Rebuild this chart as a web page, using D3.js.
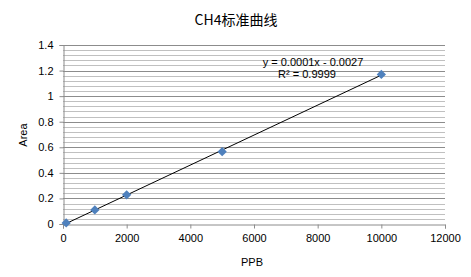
<!DOCTYPE html>
<html>
<head>
<meta charset="utf-8">
<script src="https://cdn.jsdelivr.net/npm/d3@7"></script>
<style>
  body { margin: 0; background: #fff; }
  svg text { font-family: "Liberation Sans", "Noto Sans CJK SC", sans-serif; fill: #000; }
</style>
</head>
<body>
<div id="chart"></div>
<script>
// standard curve data
var ppb = [100, 1000, 2000, 5000, 10000];
var area = [0.008, 0.11, 0.228, 0.566, 1.17];
var xTicks = [0, 2000, 4000, 6000, 8000, 10000, 12000];
var yTicks = [0, 0.2, 0.4, 0.6, 0.8, 1, 1.2, 1.4];
var eqLines = ["y = 0.0001x - 0.0027", "R² = 0.9999"];

var width = 471, height = 277;
// plot box (note: "top" is reserved on window, so use a prefix)
var pLeft = 63, pRight = 445, pTop = 45, pBottom = 224;

var svg = d3.select('#chart').append('svg')
  .attr('width', width).attr('height', height);

var x = d3.scaleLinear().domain([0, 12000]).range([pLeft, pRight]);
var y = d3.scaleLinear().domain([0, 1.4]).range([pBottom, pTop]);

// minor gridlines every 0.04
var minor = d3.range(0, 1.4001, 0.04).filter(function(v) {
  return Math.abs(v / 0.2 - Math.round(v / 0.2)) > 0.01;
});
svg.append('g').selectAll('line').data(minor).enter().append('line')
  .attr('x1', pLeft).attr('x2', pRight)
  .attr('y1', function(d) { return Math.round(y(d)) + 0.5; })
  .attr('y2', function(d) { return Math.round(y(d)) + 0.5; })
  .attr('stroke', '#c0c0c0').attr('stroke-width', 1);

// major gridlines
svg.append('g').selectAll('line').data(yTicks.slice(1)).enter().append('line')
  .attr('x1', pLeft).attr('x2', pRight)
  .attr('y1', function(d) { return Math.round(y(d)) + 0.5; })
  .attr('y2', function(d) { return Math.round(y(d)) + 0.5; })
  .attr('stroke', '#8c8c8c').attr('stroke-width', 1);

// axes
var yAxis = svg.append('g')
  .attr('transform', 'translate(' + (pLeft + 0.5) + ',0)')
  .call(d3.axisLeft(y).tickValues(yTicks).tickSize(4).tickPadding(6)
    .tickFormat(function(d) { return d3.format('')(+d.toFixed(1)); }));
var xAxis = svg.append('g')
  .attr('transform', 'translate(0,' + (Math.round(pBottom) + 0.5) + ')')
  .call(d3.axisBottom(x).tickValues(xTicks).tickSize(4).tickPadding(6)
    .tickFormat(d3.format('d')));

[xAxis, yAxis].forEach(function(a) {
  a.select('.domain').attr('stroke', '#8c8c8c');
  a.selectAll('.tick line').attr('stroke', '#8c8c8c');
  a.selectAll('text').style('font-size', '11px').attr('fill', '#000');
});

// linear trendline (least squares)
var mx = d3.mean(ppb), my = d3.mean(area);
var slope = d3.sum(ppb, function(d, i) { return (d - mx) * (area[i] - my); }) /
            d3.sum(ppb, function(d) { return (d - mx) * (d - mx); });
var icpt = my - slope * mx;
var ext = d3.extent(ppb);
svg.append('line')
  .attr('x1', x(ext[0])).attr('y1', y(slope * ext[0] + icpt))
  .attr('x2', x(ext[1])).attr('y2', y(slope * ext[1] + icpt))
  .attr('stroke', '#000').attr('stroke-width', 1);

// diamond markers
svg.append('g').selectAll('path').data(ppb).enter().append('path')
  .attr('d', d3.symbol().type(d3.symbolDiamond2).size(55))
  .attr('transform', function(d, i) { return 'translate(' + x(d) + ',' + y(area[i]) + ')'; })
  .attr('fill', '#4f81bd');

// equation label
svg.append('text').attr('x', 313).attr('y', 66).attr('text-anchor', 'middle')
  .style('font-size', '11px').text(eqLines[0]);
svg.append('text').attr('x', 307).attr('y', 78).attr('text-anchor', 'middle')
  .style('font-size', '11px').text(eqLines[1]);

// title and axis titles
svg.append('text').attr('x', 236).attr('y', 25).attr('text-anchor', 'middle')
  .style('font-size', '14px').style('font-family', '"Noto Sans CJK SC", sans-serif')
  .text('CH4标准曲线');
svg.append('text').attr('x', 252).attr('y', 266).attr('text-anchor', 'middle')
  .style('font-size', '11px').text('PPB');
svg.append('text').attr('transform', 'translate(27,135) rotate(-90)')
  .attr('text-anchor', 'middle').style('font-size', '11px').text('Area');
</script>
</body>
</html>
